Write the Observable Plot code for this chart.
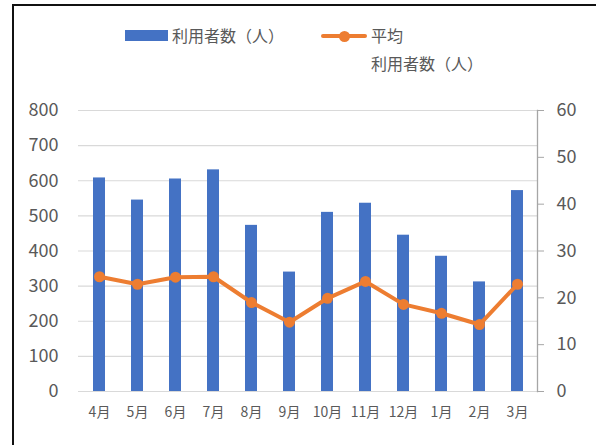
<!DOCTYPE html>
<html>
<head>
<meta charset="utf-8">
<script src="https://cdn.jsdelivr.net/npm/d3@7"></script>
<script src="https://cdn.jsdelivr.net/npm/@observablehq/plot@0.6"></script>
<style>
  html, body { margin: 0; padding: 0; background: #fff; overflow: hidden; }
  #wrap { position: relative; width: 596px; height: 445px; overflow: hidden; font-family: "Noto Sans CJK JP", "Noto Sans", sans-serif; }
  #border { position: absolute; left: 12px; top: 4px; width: 900px; height: 900px; border: 2px solid #111; box-sizing: border-box; }
  .layer { position: absolute; left: 0; top: 0; }
  .lg { position: absolute; font-size: 16px; line-height: 22px; color: #595959; white-space: nowrap; }
</style>
</head>
<body>
<div id="wrap">
  <div id="border"></div>
  <div id="p1" class="layer"></div>
  <div id="p2" class="layer"></div>
  <div style="position:absolute;left:125px;top:30px;width:43px;height:11px;background:#4472C4"></div>
  <div class="lg" style="left:172px;top:24px">利用者数（人）</div>
  <div style="position:absolute;left:321px;top:34px;width:46px;height:4px;background:#ED7D31;border-radius:2px"></div>
  <div style="position:absolute;left:338.5px;top:30.5px;width:11px;height:11px;background:#ED7D31;border-radius:50%"></div>
  <div class="lg" style="left:371px;top:24px">平均</div>
  <div class="lg" style="left:371px;top:52px">利用者数（人）</div>
</div>
<script>
const months = ["4月","5月","6月","7月","8月","9月","10月","11月","12月","1月","2月","3月"];
const users = [608, 545, 605, 631, 473, 340, 510, 536, 445, 385, 312, 572];
const avgUsers = [24.5, 22.9, 24.4, 24.5, 19.0, 14.8, 19.9, 23.5, 18.6, 16.7, 14.3, 22.9];
const leftTicks = [0, 100, 200, 300, 400, 500, 600, 700, 800];
const rightTicks = [0, 10, 20, 30, 40, 50, 60];

const data = months.map((m, i) => ({month: m, users: users[i], avg: avgUsers[i]}));

const font = '"Noto Sans CJK JP", "Noto Sans", sans-serif';
const common = {
  width: 596, height: 445,
  marginLeft: 78, marginRight: 59, marginTop: 110, marginBottom: 54,
  style: {fontFamily: font, background: "transparent", overflow: "visible"}
};
const xScale = {type: "band", domain: months, paddingInner: 0.69, paddingOuter: 0.345, label: null};

const p1 = Plot.plot({
  ...common,
  x: xScale,
  y: {domain: [0, 800], label: null},
  marks: [
    Plot.gridY(leftTicks, {stroke: "#d9d9d9", strokeOpacity: 1, strokeWidth: 1.2}),
    Plot.axisY(leftTicks, {tickSize: 0, tickPadding: 20, fontSize: 18, fill: "#595959", label: null}),
    Plot.axisX({tickSize: 0, tickPadding: 16, fontSize: 14, fill: "#595959", label: null}),
    Plot.barY(data, {x: "month", y: "users", fill: "#4472C4"})
  ]
});
document.getElementById("p1").appendChild(p1);

const p2 = Plot.plot({
  ...common,
  x: {...xScale, axis: null},
  y: {domain: [0, 60], label: null},
  marks: [
    Plot.frame({anchor: "right", stroke: "#a6a6a6", strokeWidth: 1.3}),
    Plot.axisY(rightTicks, {anchor: "right", tickSize: 6, tickPadding: 13, fontSize: 18, fill: "#595959", stroke: "#a6a6a6", label: null}),
    Plot.line(data, {x: "month", y: "avg", stroke: "#ED7D31", strokeWidth: 4}),
    Plot.dot(data, {x: "month", y: "avg", r: 5.5, fill: "#ED7D31"})
  ]
});
document.getElementById("p2").appendChild(p2);
</script>
</body>
</html>
